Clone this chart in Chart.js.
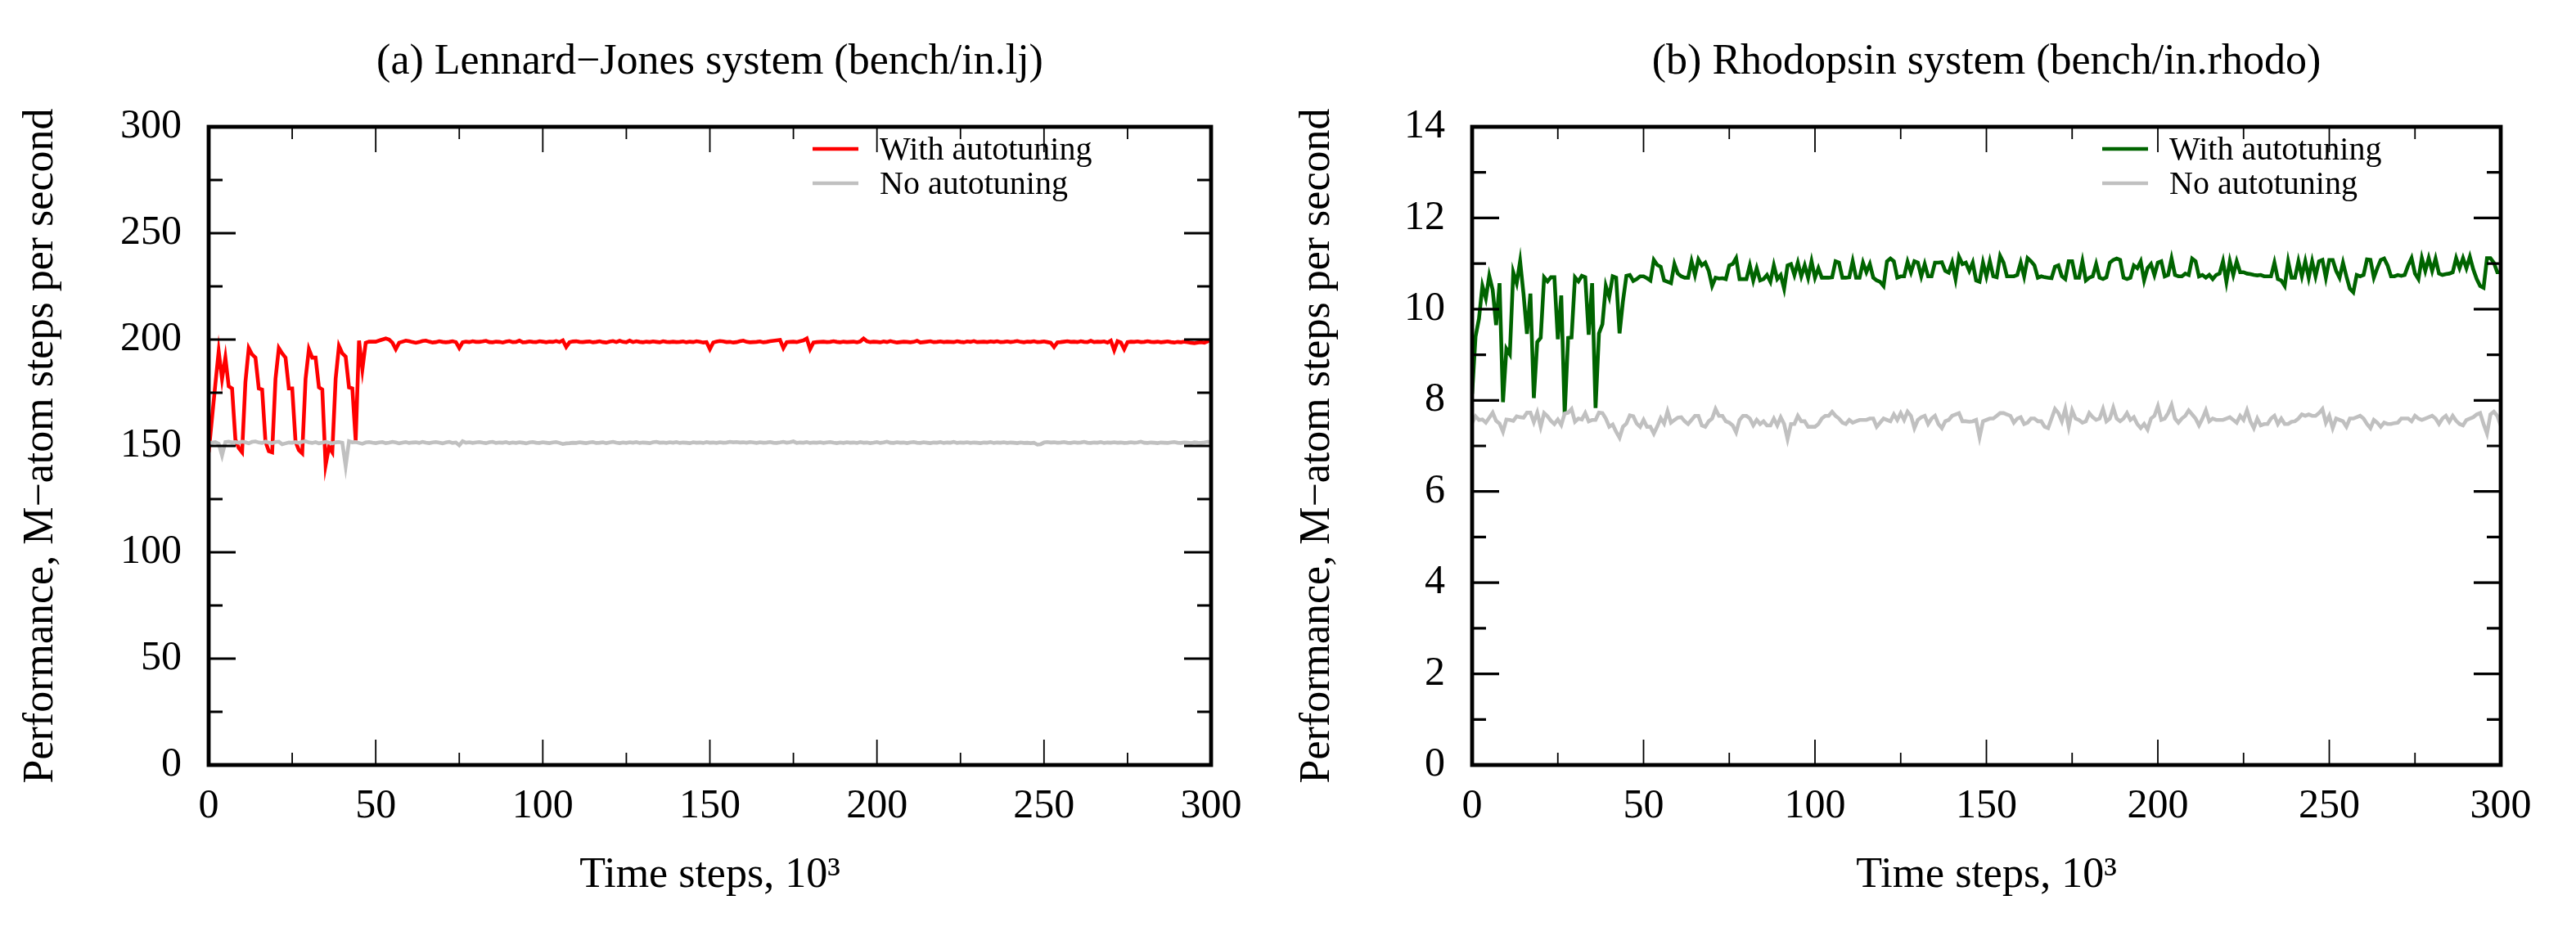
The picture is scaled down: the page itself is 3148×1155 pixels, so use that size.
<!DOCTYPE html>
<html><head><meta charset="utf-8">
<script src="https://cdn.jsdelivr.net/npm/chart.js@4.4.1/dist/chart.umd.min.js"></script>
<style>
html,body{margin:0;padding:0;background:#fff;overflow:hidden}
#a{position:absolute;left:0;top:0}
#b{position:absolute;left:1560px;top:0}
</style>
</head><body>
<canvas id="a" width="1560" height="1155"></canvas>
<canvas id="b" width="1588" height="1155"></canvas>
<script>
// Time steps (in thousands), one sample per 1000 steps
const steps = Array.from({length: 301}, (_, i) => i);

const seriesNames = ['With autotuning', 'No autotuning'];
const titleLJ = '(a) Lennard\u2212Jones system (bench/in.lj)';
const titleRhodo = '(b) Rhodopsin system (bench/in.rhodo)';
const yTitle = 'Performance, M\u2212atom steps per second';
const xTitle = 'Time steps, 10\u00B3';

const ljAuto = [
147,163,179,194.5,181.5,191.5,178,177,153,149,
147,180,196,193,191.5,177,176.5,152,147.5,147,
181.5,196,193.5,191.5,177,177,152,148,146.5,181.5,
195.5,191.5,191.5,177.5,176.5,141,149.5,147,181.5,197,
193.5,192,177.5,177,152.5,199.5,186,198.5,199,199,
199,199.5,200,200.5,200,198.5,195.5,198.5,199,199.5,
199.2,198.8,198.5,198.8,199.3,199.5,199,198.6,198.8,199.2,
198.9,198.7,198.9,199.2,198.8,196,198.7,199,198.8,199.2,
198.9,198.9,199.1,199.4,198.8,198.7,199,198.9,198.6,199,
199.3,198.8,198.9,199.5,198.7,198.8,199.1,198.9,198.8,199.2,
199,198.7,199,198.9,199.3,198.8,199.6,196.5,198.7,199.1,
199.2,198.9,198.8,199,199.1,198.7,198.9,199.2,198.8,198.6,
199,199.3,198.8,199.4,198.9,198.7,199.5,198.8,199.2,198.9,
198.7,199,198.8,199.1,198.9,198.7,199.2,198.9,198.8,199,
198.8,198.9,199.1,198.7,199,198.8,199.2,198.9,198.6,198.8,
195.5,198.6,199,199.3,199.1,198.8,198.9,198.6,198.8,199.2,
199.5,198.9,198.7,198.8,198.9,199.1,198.7,198.9,199.2,199.4,
199.6,199.8,196,198.8,198.9,199,198.8,199.2,199.6,200.5,
195.5,198.6,198.8,198.9,199,198.8,198.9,199.2,198.9,198.7,
199,198.8,198.9,199,198.7,199.1,200.5,199.2,198.8,199,
198.9,198.7,199.1,198.8,199.3,198.9,198.6,198.8,199,198.9,
198.7,198.9,199.4,198.6,198.8,199,199.2,198.8,198.9,199.1,
198.8,199,198.9,198.8,199.2,198.9,198.7,199.1,198.9,199.3,
198.8,198.9,199,198.8,199.1,198.9,199.2,198.8,198.9,199.1,
198.8,199,199.3,198.9,198.7,199,198.9,199.2,198.8,198.9,
199.1,198.8,198.5,196.5,198.7,198.8,199,199.2,198.9,199,
198.8,199.2,198.9,198.8,199.4,198.8,199,198.9,199.1,198.6,
199.5,195,199.2,198.6,195.5,198.8,199,198.9,199.1,198.8,
198.9,199.2,198.9,198.8,199,198.7,198.9,199.1,198.8,198.6,
198.9,198.7,199,198.8,198.5,198.3,198.6,198.8,198.5,199.2,
200];

const ljNone = [
151.5,151.5,151.8,151,145.5,151.8,152,151.6,151.8,151.5,
152,151.7,151.2,151.9,152.1,151.6,151.4,152,151.5,151.3,
151.8,152,150.8,151.2,151.6,151.5,151.8,151.4,151.9,152.2,
151.6,151.4,151.8,151.2,151.5,151.9,151.5,151.2,151.7,151.8,
151.5,140.5,152.2,151.7,151.8,151.4,151,151.6,151.8,151.5,
151.3,151.6,151.8,151.3,151.5,151.9,151.6,151.2,151.5,151.8,
151.4,151.6,151.7,151.4,151.9,151.5,151.3,151.6,151.8,151.5,
151.2,151.6,151.9,151.4,151.6,150.3,152.2,151.5,151.7,151.4,
151.6,151.8,151.5,151.3,151.7,151.9,151.4,151.6,151.5,151.8,
151.3,151.6,151.4,151.7,151.5,151.2,151.6,151.8,151.5,151.4,
151.7,151.5,151.3,151.6,151.8,151.4,150.9,151.2,151.3,151.5,
151.4,151.7,151.5,151.3,151.6,151.8,151.4,151.5,151.7,151.3,
151.6,151.9,151.5,151.3,151.6,151.4,151.7,151.5,151.8,151.4,
151.6,151.5,151.3,151.7,151.9,151.5,151.6,151.4,151.7,151.5,
151.8,151.4,151.6,151.5,151.3,151.7,151.5,151.6,151.4,151.8,
151.5,151.6,151.4,151.7,151.5,151.6,151.9,151.7,151.8,151.6,
151.7,151.5,151.8,151.6,151.4,151.7,151.5,151.6,151.8,151.5,
151.4,151.6,151.9,151.5,151.7,152.1,151.4,151.6,151.5,151.8,
151.4,151.6,151.5,151.7,151.4,151.6,151.8,151.5,151.3,151.6,
151.4,151.7,151.5,151.6,151.4,151.8,151.5,151.6,151.3,151.5,
151.8,151.4,151.6,152,151.5,151.4,151.7,151.5,151.6,151.3,
151.6,151.8,151.5,151.4,151.7,151.5,151.3,151.6,151.5,151.8,
151.4,151.6,151.5,151.9,151.4,151.6,151.5,151.7,151.4,151.6,
151.5,151.3,151.6,151.5,151.8,151.4,151.6,151.5,151.7,151.4,
151.6,151.5,151.3,151.6,151.4,151.5,151.3,151.5,150.6,150.8,
151.6,151.8,151.6,151.7,151.5,151.6,151.8,151.5,151.4,151.7,
151.5,151.6,151.9,151.5,151.4,151.6,151.5,151.8,151.4,151.6,
151.5,151.7,151.5,151.6,151.4,151.5,151.7,151.5,151.6,152,
151.5,151.4,151.6,151.5,151.3,151.6,151.5,151.4,151.6,151.8,
151.5,151.4,151.6,151.5,151.3,151.7,151.5,151.4,151.6,151.9,
151.8];

const rhodoAuto = [
8.14,9.40,9.79,10.51,10.24,10.73,10.42,9.65,10.57,7.96,
9.13,9.01,10.81,10.57,11.05,10.33,9.46,10.34,8.05,9.28,
9.37,10.70,10.61,10.70,10.70,9.34,10.30,7.69,9.37,9.38,
10.70,10.61,10.73,10.70,9.44,10.57,7.83,9.47,9.67,10.51,
10.27,10.72,10.69,9.47,10.18,10.73,10.75,10.62,10.66,10.72,
10.72,10.68,10.63,11.08,10.97,10.93,10.63,10.60,10.57,10.99,
10.78,10.72,10.69,10.69,11.05,10.75,11.09,10.96,11.02,10.84,
10.51,10.69,10.67,10.68,10.66,10.96,10.99,11.12,10.66,10.66,
10.66,10.96,10.63,10.90,10.63,10.66,10.75,10.60,10.96,10.66,
10.75,10.45,10.96,10.99,10.75,11.02,10.72,10.96,10.69,11.05,
10.69,10.90,10.69,10.69,10.69,10.70,11.05,11.02,10.69,10.69,
10.70,11.05,10.69,10.69,11.02,10.81,10.99,10.69,10.63,10.60,
10.51,11.05,11.11,11.05,10.69,10.72,10.72,11.04,10.81,11.05,
11.02,10.72,10.99,10.72,10.72,11.02,11.02,11.03,10.84,10.80,
11.02,10.66,11.15,10.99,11.02,10.84,11.02,10.63,10.60,11.02,
10.72,11.05,10.72,10.70,11.17,11.02,10.72,10.72,10.72,10.75,
11.02,10.72,11.12,11.05,10.96,10.69,10.72,10.70,10.69,10.68,
10.93,10.96,10.72,10.66,11.05,11.05,10.69,10.69,11.05,10.63,
10.69,10.72,10.99,10.69,10.66,10.70,11.02,11.08,11.11,11.08,
10.69,10.66,10.69,10.96,10.90,11.05,10.63,10.90,10.99,10.75,
11.02,11.05,10.72,10.75,11.11,10.75,10.72,10.72,10.78,10.75,
11.11,11.05,10.72,10.75,10.69,10.75,10.66,10.75,10.78,11.05,
10.60,11.05,10.75,11.05,10.81,10.81,10.78,10.77,10.75,10.74,
10.75,10.72,10.72,10.72,11.02,10.66,10.63,10.51,11.05,10.69,
10.69,11.05,10.72,11.05,10.69,11.05,10.72,11.05,11.08,10.69,
11.08,11.08,10.84,10.69,11.02,10.72,10.45,10.37,10.75,10.72,
10.75,11.09,11.08,10.69,10.90,11.08,11.11,10.96,10.72,10.72,
10.75,10.73,10.75,10.96,11.12,10.78,10.66,11.12,10.84,11.12,
10.84,11.11,10.78,10.75,10.77,10.78,10.81,11.12,10.90,11.12,
10.90,11.15,10.87,10.66,10.51,10.47,11.12,11.12,11.02,10.81,
10.81];

const rhodoNone = [
7.51,7.65,7.57,7.58,7.51,7.62,7.73,7.55,7.49,7.31,
7.58,7.57,7.55,7.65,7.63,7.62,7.73,7.73,7.52,7.73,
7.42,7.72,7.65,7.55,7.48,7.58,7.46,7.71,7.73,7.81,
7.53,7.60,7.58,7.72,7.54,7.57,7.57,7.73,7.72,7.60,
7.42,7.47,7.31,7.18,7.42,7.49,7.67,7.65,7.49,7.42,
7.57,7.42,7.42,7.27,7.43,7.61,7.49,7.76,7.51,7.57,
7.62,7.63,7.54,7.48,7.57,7.66,7.66,7.45,7.42,7.54,
7.60,7.81,7.66,7.66,7.54,7.51,7.45,7.30,7.57,7.66,
7.66,7.60,7.45,7.57,7.48,7.54,7.45,7.45,7.60,7.45,
7.63,7.48,7.15,7.48,7.48,7.66,7.54,7.54,7.42,7.42,
7.42,7.48,7.60,7.66,7.66,7.75,7.66,7.60,7.51,7.48,
7.57,7.51,7.54,7.57,7.57,7.57,7.60,7.60,7.42,7.51,
7.60,7.57,7.54,7.69,7.57,7.72,7.57,7.75,7.66,7.39,
7.57,7.63,7.66,7.48,7.60,7.66,7.48,7.39,7.54,7.57,
7.66,7.69,7.72,7.54,7.54,7.53,7.54,7.57,7.19,7.54,
7.57,7.60,7.60,7.66,7.72,7.72,7.69,7.66,7.51,7.60,
7.63,7.48,7.51,7.60,7.60,7.54,7.54,7.42,7.39,7.60,
7.81,7.72,7.54,7.81,7.42,7.78,7.60,7.57,7.51,7.54,
7.72,7.63,7.57,7.60,7.81,7.54,7.60,7.84,7.60,7.54,
7.60,7.72,7.57,7.63,7.48,7.39,7.48,7.36,7.60,7.66,
7.87,7.57,7.60,7.72,7.90,7.60,7.51,7.60,7.66,7.78,
7.69,7.60,7.45,7.60,7.78,7.54,7.60,7.57,7.57,7.57,
7.60,7.63,7.57,7.51,7.66,7.57,7.78,7.54,7.39,7.60,
7.45,7.48,7.48,7.60,7.66,7.48,7.60,7.48,7.48,7.53,
7.54,7.60,7.69,7.66,7.69,7.66,7.66,7.72,7.81,7.51,
7.66,7.39,7.60,7.57,7.54,7.42,7.60,7.60,7.63,7.66,
7.60,7.48,7.39,7.57,7.51,7.42,7.51,7.48,7.48,7.50,
7.51,7.60,7.60,7.60,7.54,7.66,7.60,7.57,7.60,7.63,
7.66,7.60,7.48,7.60,7.66,7.53,7.66,7.55,7.48,7.45,
7.57,7.60,7.63,7.69,7.72,7.48,7.27,7.69,7.75,7.66,
7.45];

const FONT = "'Liberation Serif', 'Times New Roman', serif";

const framePlugin = {
  id: 'frame',
  afterDatasetsDraw(chart) {
    const {ctx, chartArea: a, scales: {x, y}} = chart;
    ctx.save();
    ctx.strokeStyle = '#000';
    ctx.lineCap = 'butt';
    const yt = y.ticks.map(t => t.value);
    const drawY = (v, len) => {
      const p = y.getPixelForValue(v);
      ctx.beginPath();
      ctx.moveTo(a.left, p); ctx.lineTo(a.left + len, p);
      ctx.moveTo(a.right, p); ctx.lineTo(a.right - len, p);
      ctx.stroke();
    };
    ctx.lineWidth = 3.2;
    yt.forEach(v => drawY(v, 33));
    for (let i = 0; i < yt.length - 1; i++) drawY((yt[i] + yt[i + 1]) / 2, 17);
    const xt = x.ticks.map(t => t.value);
    const drawX = (v, len) => {
      const p = x.getPixelForValue(v);
      ctx.beginPath();
      ctx.moveTo(p, a.bottom); ctx.lineTo(p, a.bottom - len);
      ctx.moveTo(p, a.top); ctx.lineTo(p, a.top + len);
      ctx.stroke();
    };
    ctx.lineWidth = 1.8;
    xt.forEach(v => drawX(v, 31));
    for (let i = 0; i < xt.length - 1; i++) drawX((xt[i] + xt[i + 1]) / 2, 15);
    ctx.lineWidth = 4.8;
    ctx.strokeRect(a.left, a.top, a.right - a.left, a.bottom - a.top);
    ctx.restore();
  },
  afterDraw(chart) {
    const {ctx, chartArea: a} = chart;
    ctx.save();
    ctx.font = '40px ' + FONT;
    ctx.textBaseline = 'middle';
    ctx.textAlign = 'left';
    chart.data.datasets.forEach((ds, i) => {
      const yy = a.top + 27 + i * 42;
      ctx.strokeStyle = ds.borderColor;
      ctx.lineWidth = 4.5;
      ctx.beginPath();
      ctx.moveTo(a.right - 487, yy);
      ctx.lineTo(a.right - 431, yy);
      ctx.stroke();
      ctx.fillStyle = '#000';
      ctx.fillText(ds.label, a.right - 405, yy + 2);
    });
    ctx.restore();
  }
};

function makeChart(id, title, autoVals, noneVals, autoColor, yMax, yStep, yAxisWidth, padRight) {
  const pts = arr => steps.map((s, i) => ({x: s, y: arr[i]}));
  return new Chart(document.getElementById(id), {
    type: 'line',
    data: {
      datasets: [
        {label: seriesNames[0], data: pts(autoVals), borderColor: autoColor, borderWidth: 4.6,
         pointRadius: 0, tension: 0, fill: false, order: 1},
        {label: seriesNames[1], data: pts(noneVals), borderColor: '#c0c0c0', borderWidth: 4.6,
         pointRadius: 0, tension: 0, fill: false, order: 0}
      ]
    },
    options: {
      responsive: false,
      devicePixelRatio: 1,
      animation: false,
      events: [],
      layout: {padding: {left: 0, right: padRight, top: 0, bottom: 0}},
      plugins: {
        legend: {display: false},
        tooltip: {enabled: false},
        title: {
          display: true, text: title, color: '#000', fullSize: false,
          font: {family: FONT, size: 52, weight: 'normal', lineHeight: 1.2},
          padding: {top: 45, bottom: 47.6}
        }
      },
      scales: {
        x: {
          type: 'linear', min: 0, max: 300,
          grid: {display: false, drawTicks: false},
          border: {display: false},
          ticks: {stepSize: 50, color: '#000', padding: 21, maxRotation: 0, autoSkip: false,
                  font: {family: FONT, size: 50}},
          title: {display: true, text: xTitle, color: '#000',
                  font: {family: FONT, size: 52, lineHeight: 1.2}, padding: {top: 0, bottom: 53}},
          afterFit: s => { s.height = 220; }
        },
        y: {
          type: 'linear', min: 0, max: yMax,
          grid: {display: false, drawTicks: false},
          border: {display: false},
          ticks: {stepSize: yStep, color: '#000', padding: 33, autoSkip: false,
                  font: {family: FONT, size: 50}},
          title: {display: true, text: yTitle, color: '#000',
                  font: {family: FONT, size: 52, lineHeight: 1.2}, padding: {top: 19, bottom: 0}},
          afterFit: s => { s.width = yAxisWidth; }
        }
      }
    },
    plugins: [framePlugin]
  });
}

makeChart('a', titleLJ, ljAuto, ljNone, '#ff0000', 300, 50, 255, 80);
makeChart('b', titleRhodo, rhodoAuto, rhodoNone, '#006400', 14, 2, 239, 92);
</script>
</body></html>
